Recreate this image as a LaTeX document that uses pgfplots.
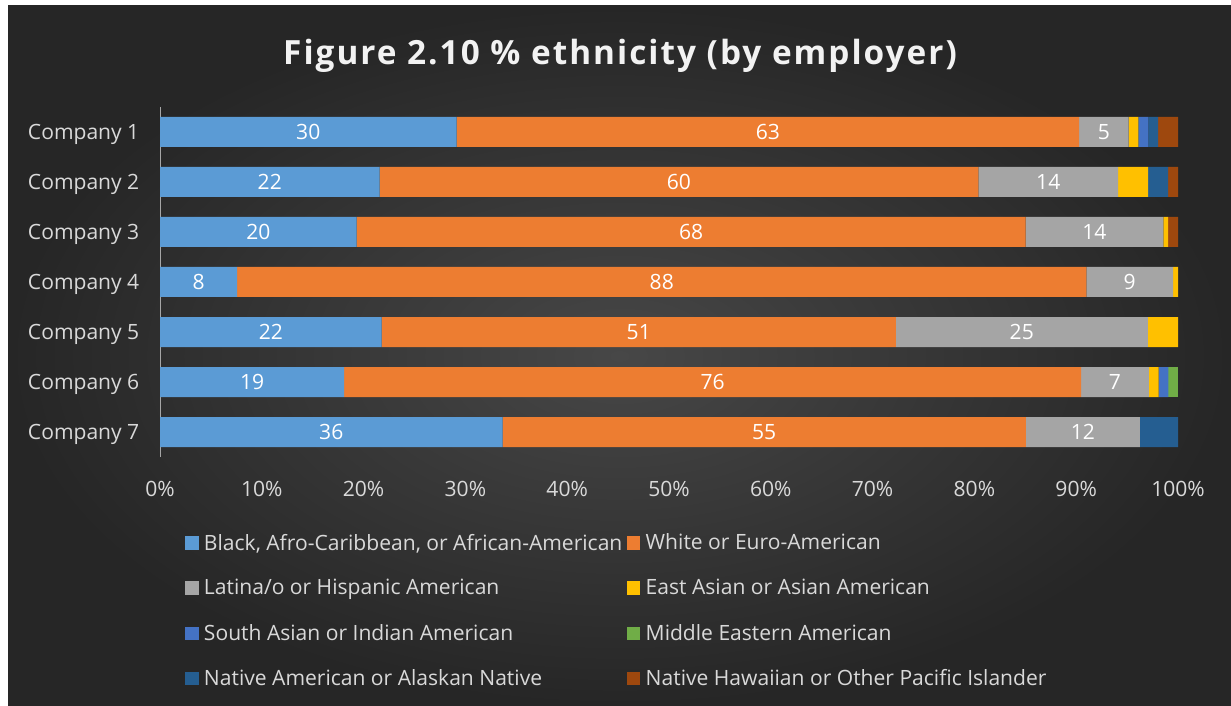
\documentclass[border=0pt]{standalone}
\usepackage{pgfplots}
\usepackage{pgfplotstable}
\pgfplotsset{compat=1.18}
\usepackage{fontspec}
\setmainfont{Open Sans}
\newfontfamily\titlefont[LetterSpace=6]{Open Sans}
\definecolor{c1}{HTML}{5B9BD5}
\definecolor{c2}{HTML}{ED7D31}
\definecolor{c3}{HTML}{A5A5A5}
\definecolor{c4}{HTML}{FFC000}
\definecolor{c5}{HTML}{4472C4}
\definecolor{c6}{HTML}{70AD47}
\definecolor{c7}{HTML}{255E91}
\definecolor{c8}{HTML}{9E480E}
\definecolor{lgray}{HTML}{D9D9D9}
\definecolor{bgin}{HTML}{474747}
\definecolor{bgout}{HTML}{262626}

\pgfplotstableread{
y b w l ea sa me na nh
1 30 63 5 1 1 0 1 2
2 22 60 14 3 0 0 2 1
3 20 68 14 0.5 0 0 0 1
4 8 88 9 0.5 0 0 0 0
5 22 51 25 3 0 0 0 0
6 19 76 7 1 1 1 0 0
7 36 55 12 0 0 0 4 0
}\datatable
\pgfplotstablecreatecol[expr={\thisrow{b}+\thisrow{w}+\thisrow{l}+\thisrow{ea}+\thisrow{sa}+\thisrow{me}+\thisrow{na}+\thisrow{nh}}]{tot}\datatable

\newcommand{\lblfont}{\fontsize{15.8}{18}\selectfont}

\pgfplotsset{
  myaxis/.style={
    at={(120pt,186.75pt)}, anchor=south west,
    scale only axis, width=763.5pt, height=262.5pt,
    xmin=0, xmax=100, ymin=0.5, ymax=7.5, y dir=reverse,
  },
}

\begin{document}
\begin{tikzpicture}
\path[use as bounding box] (0,0) rectangle (923.25pt,529.5pt);
\fill[white] (0,0) rectangle (923.25pt,529.5pt);
\shade[inner color=bgin, outer color=bgout] (6pt,0) rectangle (923.25pt,525pt);
\node[text=white!95!black, font=\titlefont\bfseries\fontsize{25}{30}\selectfont] at (465pt,487.5pt) {Figure 2.10 \% ethnicity (by employer)};

\begin{axis}[myaxis,
  xbar stacked, bar width=22.5pt,
  axis lines*=left,
  x axis line style={draw=none},
  y axis line style={draw=gray!70, -},
  tick style={draw=none},
  xtick={0,10,...,100},
  xticklabel={\pgfmathprintnumber{\tick}\%},
  ytick={1,2,3,4,5,6,7},
  yticklabels={Company 1,Company 2,Company 3,Company 4,Company 5,Company 6,Company 7},
  ticklabel style={font=\lblfont, text=lgray},
  xticklabel style={yshift=-15pt},
  yticklabel style={xshift=-12pt, yshift=-2pt},
  /pgf/number format/assume math mode=true,
  legend columns=2,
  legend cell align=left,
  legend style={at={(0.0246,-0.2114)}, anchor=north west, draw=none, fill=none,
    text=lgray, font=\lblfont, row sep=16.5pt, inner sep=0pt,
    /tikz/column 2/.style={column sep=1.5pt}},
  legend image code/.code={\fill[#1] (0pt,-5pt) rectangle (10pt,5pt); \path (12pt,0pt);},
]
\addplot[fill=c1, draw=none] table[x expr=\thisrow{b}/\thisrow{tot}*100, y=y]{\datatable};
\addplot[fill=c2, draw=none] table[x expr=\thisrow{w}/\thisrow{tot}*100, y=y]{\datatable};
\addplot[fill=c3, draw=none] table[x expr=\thisrow{l}/\thisrow{tot}*100, y=y]{\datatable};
\addplot[fill=c4, draw=none] table[x expr=\thisrow{ea}/\thisrow{tot}*100, y=y]{\datatable};
\addplot[fill=c5, draw=none] table[x expr=\thisrow{sa}/\thisrow{tot}*100, y=y]{\datatable};
\addplot[fill=c6, draw=none] table[x expr=\thisrow{me}/\thisrow{tot}*100, y=y]{\datatable};
\addplot[fill=c7, draw=none] table[x expr=\thisrow{na}/\thisrow{tot}*100, y=y]{\datatable};
\addplot[fill=c8, draw=none] table[x expr=\thisrow{nh}/\thisrow{tot}*100, y=y]{\datatable};
\legend{{Black, Afro-Caribbean, or African-American},White or Euro-American,Latina/o or Hispanic American,East Asian or Asian American,South Asian or Indian American,Middle Eastern American,Native American or Alaskan Native,Native Hawaiian or Other Pacific Islander}
\end{axis}

\begin{axis}[myaxis, hide axis,
  /pgf/number format/assume math mode=true,
  every node near coord/.append style={text=white, font=\lblfont, anchor=center},
]
\addplot[draw=none, mark=none, nodes near coords, point meta=explicit]
  table[x expr=\thisrow{b}/2/\thisrow{tot}*100, y=y, meta=b]{\datatable};
\addplot[draw=none, mark=none, nodes near coords, point meta=explicit]
  table[x expr=(\thisrow{b}+\thisrow{w}/2)/\thisrow{tot}*100, y=y, meta=w]{\datatable};
\addplot[draw=none, mark=none, nodes near coords, point meta=explicit]
  table[x expr=(\thisrow{b}+\thisrow{w}+\thisrow{l}/2)/\thisrow{tot}*100, y=y, meta=l]{\datatable};
\end{axis}
\end{tikzpicture}
\end{document}
